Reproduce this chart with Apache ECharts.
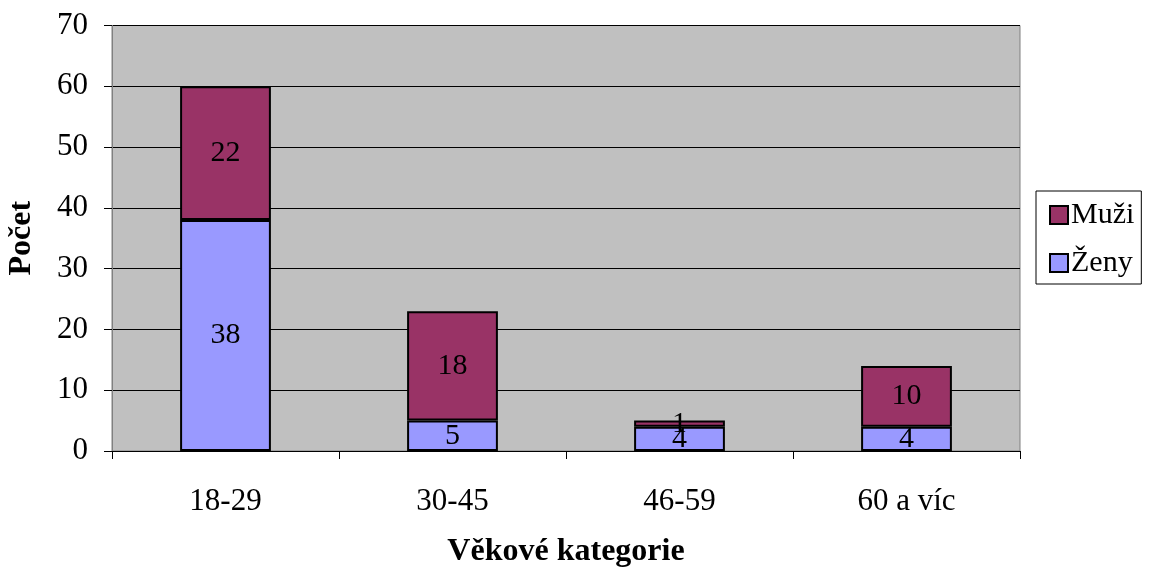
<!DOCTYPE html>
<html>
<head>
<meta charset="utf-8">
<script src="https://cdn.jsdelivr.net/npm/echarts@6/dist/echarts.min.js"></script>
<style>
html,body{margin:0;padding:0;background:#fff;}
#chart{width:1150px;height:570px;}
</style>
</head>
<body>
<div id="chart"></div>
<script>
const categories = ['18-29', '30-45', '46-59', '60 a víc'];
const zeny = [38, 5, 4, 4];
const muzi = [22, 18, 1, 10];
const yTicks = [0, 10, 20, 30, 40, 50, 60, 70];

const font = '"Liberation Serif", "Times New Roman", serif';
const chart = echarts.init(document.getElementById('chart'), null, {renderer: 'canvas'});

const labelStyle = {
  show: true,
  position: 'inside',
  color: '#000',
  fontFamily: font,
  fontSize: 30
};

chart.setOption({
  animation: false,
  textStyle: {fontFamily: font},
  grid: {
    left: 112, right: 130, top: 25.5, bottom: 119,
    containLabel: false,
    outerBoundsMode: 'none',
    show: true,
    backgroundColor: '#C0C0C0',
    borderColor: '#808080',
    borderWidth: 1
  },
  legend: {
    data: ['Muži', 'Ženy'],
    orient: 'vertical',
    left: 1036,
    top: 191,
    padding: [9, 7, 6, 13],
    itemGap: 18,
    itemWidth: 18,
    itemHeight: 18,
    icon: 'rect',
    backgroundColor: '#fff',
    borderColor: '#000',
    borderWidth: 1,
    borderRadius: 0,
    textStyle: {fontFamily: font, fontSize: 30, color: '#000', padding: [0, 0, 0, -2]},
    itemStyle: {borderColor: '#000', borderWidth: 2}
  },
  xAxis: {
    type: 'category',
    data: categories,
    boundaryGap: true,
    name: 'Věkové kategorie',
    nameLocation: 'middle',
    nameGap: 85,
    nameTextStyle: {fontFamily: font, fontSize: 32, fontWeight: 'bold', color: '#000'},
    axisLine: {show: true, lineStyle: {color: '#000', width: 1}},
    axisTick: {show: true, alignWithLabel: false, length: 8, lineStyle: {color: '#000'}},
    axisLabel: {fontFamily: font, fontSize: 31, color: '#000', margin: 35}
  },
  yAxis: {
    type: 'value',
    min: yTicks[0],
    max: yTicks[yTicks.length - 1],
    interval: 10,
    name: 'Počet',
    nameLocation: 'middle',
    nameGap: 74,
    nameRotate: 90,
    nameTextStyle: {fontFamily: font, fontSize: 32, fontWeight: 'bold', color: '#000'},
    axisLine: {show: true, lineStyle: {color: '#808080', width: 1}},
    axisTick: {show: true, length: 8, lineStyle: {color: '#000'}},
    axisLabel: {fontFamily: font, fontSize: 31, color: '#000', margin: 24},
    splitLine: {show: true, lineStyle: {color: '#000', width: 1}}
  },
  series: [
    {
      name: 'Ženy',
      type: 'bar',
      stack: 'total',
      data: zeny,
      barWidth: '40%',
      itemStyle: {color: '#9999FF', borderColor: '#000', borderWidth: 2},
      label: labelStyle
    },
    {
      name: 'Muži',
      type: 'bar',
      stack: 'total',
      data: muzi,
      barWidth: '40%',
      itemStyle: {color: '#993366', borderColor: '#000', borderWidth: 2},
      label: labelStyle
    }
  ]
});
</script>
</body>
</html>
